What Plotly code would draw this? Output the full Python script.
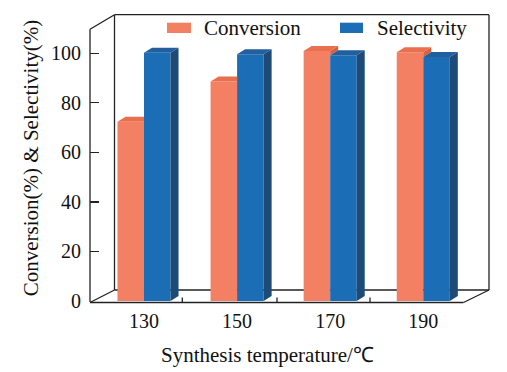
import plotly.graph_objects as go

# ---- data ----
temperatures = ["130", "150", "170", "190"]
conversion = [72.4, 88.6, 100.9, 100.4]
selectivity = [100.2, 99.6, 99.2, 98.5]
y_ticks = [0, 20, 40, 60, 80, 100]
series_names = ["Conversion", "Selectivity"]

# ---- geometry / style ----
W, H = 507, 372
ML, MR, MT, MB = 90, 18, 15, 71
PW, PH = W - ML - MR, H - MT - MB
X_RANGE = [-0.58, 3.706]
Y_RANGE = [0, 115.46]
BAR_W = 0.285
DX = 8 / 93.1      # bar depth offset in x data units
DY = 5 / 2.477     # bar depth offset in y data units
FONT = "Liberation Serif, Times New Roman, serif"

C_FRONT, C_TOP, C_SIDE = "#F38062", "#E9704F", "#D8603F"
S_FRONT, S_TOP, S_SIDE = "#1B6DB5", "#225F9E", "#1E4A78"
LINE = "#222222"

def px(x):
    return (x - ML) / PW

def py(y):
    return (H - MB - y) / PH

xs = list(range(len(temperatures)))
fig = go.Figure()

fig.add_trace(go.Bar(x=xs, y=conversion, width=BAR_W, offset=-BAR_W,
                     marker=dict(color=C_FRONT, line=dict(width=0)),
                     name=series_names[0], showlegend=False))
fig.add_trace(go.Bar(x=xs, y=selectivity, width=BAR_W, offset=0,
                     marker=dict(color=S_FRONT, line=dict(width=0)),
                     name=series_names[1], showlegend=False))

# 3D faces computed from the data values
ct_x, ct_y, cs_x, cs_y, st_x, st_y, ss_x, ss_y = [], [], [], [], [], [], [], []
for i, (v, s) in enumerate(zip(conversion, selectivity)):
    x0, x1, x2 = i - BAR_W, i, i + BAR_W
    if v > s:
        ct_x += [x0, x1, x1 + DX, x0 + DX, x0, None]
        ct_y += [v, v, v + DY, v + DY, v, None]
        cs_x += [x1, x1, x1 + DX, x1 + DX, x1, None]
        cs_y += [s, v, v + DY, s + DY, s, None]
    else:
        ct_x += [x0, x1, x1, x0 + DX, x0, None]
        ct_y += [v, v, v + DY, v + DY, v, None]
    st_x += [x1, x2, x2 + DX, x1 + DX, x1, None]
    st_y += [s, s, s + DY, s + DY, s, None]
    ss_x += [x2, x2, x2 + DX, x2 + DX, x2, None]
    ss_y += [0, s, s + DY, DY, 0, None]

for fx, fy, col in [(ct_x, ct_y, C_TOP), (cs_x, cs_y, C_SIDE),
                    (st_x, st_y, S_TOP), (ss_x, ss_y, S_SIDE)]:
    fig.add_trace(go.Scatter(x=fx, y=fy, mode="lines", fill="toself",
                             fillcolor=col, line=dict(width=0, color=col),
                             hoverinfo="skip", showlegend=False))

# ---- 3D frame (axes decoration) ----
def seg(xa, ya, xb, yb):
    return dict(type="line", xref="paper", yref="paper", layer="below",
                x0=px(xa), y0=py(ya), x1=px(xb), y1=py(yb),
                line=dict(color=LINE, width=1.3))

shapes = [
    seg(90, 302, 90, 29.3),
    seg(90, 29.3, 114.5, 14.7),
    seg(114.5, 14.7, 489, 14.7),
    seg(114.5, 14.7, 114.5, 290),
    seg(489, 14.7, 489, 290),
    seg(114.5, 290, 489, 290),
    seg(90, 302.5, 463.5, 302.5),
    seg(90, 302.5, 114.5, 290),
    seg(463.5, 302.5, 489, 290),
    seg(182.3, 302.5, 182.3, 297.5),
    seg(277, 302.5, 277, 297.5),
    seg(370, 302.5, 370, 297.5),
]
# legend swatches
for (xa, xb), col in [((167, 191), C_FRONT), ((340, 363), S_FRONT)]:
    shapes.append(dict(type="rect", xref="paper", yref="paper",
                       x0=px(xa), x1=px(xb), y0=py(33), y1=py(22.7),
                       fillcolor=col, line=dict(width=0)))

annotations = [
    dict(text=series_names[0], xref="paper", yref="paper", x=px(202), y=py(28),
         xanchor="left", yanchor="middle", showarrow=False,
         font=dict(family=FONT, size=21, color="#111")),
    dict(text=series_names[1], xref="paper", yref="paper", x=px(375), y=py(28),
         xanchor="left", yanchor="middle", showarrow=False,
         font=dict(family=FONT, size=21, color="#111")),
    dict(text="Synthesis temperature/℃", xref="paper", yref="paper",
         x=px(267), y=py(355), xanchor="center", yanchor="middle",
         showarrow=False, font=dict(family=FONT, size=21, color="#111")),
]

fig.update_layout(
    width=W, height=H,
    margin=dict(l=ML, r=MR, t=MT, b=MB, autoexpand=False),
    paper_bgcolor="white", plot_bgcolor="white",
    barmode="overlay",
    showlegend=False,
    font=dict(family=FONT, color="#111"),
    shapes=shapes, annotations=annotations,
    xaxis=dict(range=X_RANGE, tickvals=xs, ticktext=temperatures,
               showgrid=False, zeroline=False, showline=False, ticks="",
               tickfont=dict(family=FONT, size=20, color="#111"),
               ticklabelstandoff=6, fixedrange=True),
    yaxis=dict(range=Y_RANGE, tickvals=y_ticks, showgrid=False,
               zeroline=False, showline=False, ticks="inside", ticklen=9,
               tickwidth=1.3, tickcolor=LINE,
               tickfont=dict(family=FONT, size=20, color="#111"),
               ticklabelstandoff=8, fixedrange=True,
               title=dict(text="Conversion(%) & Selectivity(%)",
                          font=dict(family=FONT, size=21, color="#111"),
                          standoff=6)),
)

fig.write_html("out.html",
               config={"displayModeBar": False, "staticPlot": True},
               post_script="document.body.style.margin='0';"
                           "document.body.style.padding='0';")
